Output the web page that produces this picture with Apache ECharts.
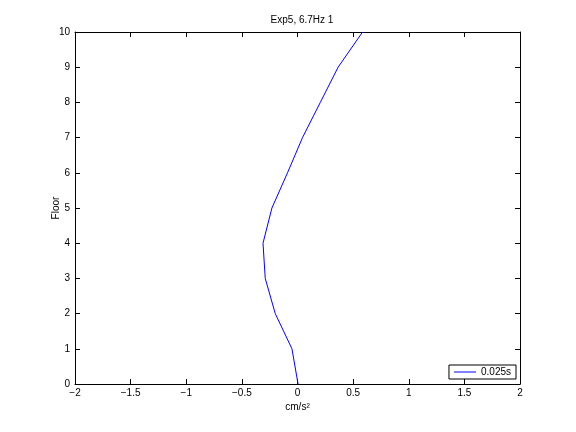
<!DOCTYPE html>
<html>
<head>
<meta charset="utf-8">
<script src="https://cdn.jsdelivr.net/npm/echarts@6/dist/echarts.min.js"></script>
<style>
  html, body { margin: 0; padding: 0; background: #fff; }
  #chart { width: 576px; height: 432px; }
</style>
</head>
<body>
<div id="chart"></div>
<script>
// floor number vs acceleration (cm/s^2)
const floors = [0, 1, 2, 3, 4, 5, 6, 7, 8, 9, 10];
const accel = [0.005, -0.05, -0.2, -0.29, -0.31, -0.23, -0.09, 0.045, 0.205, 0.365, 0.585];
const seriesName = "0.025s";
const titleText = "Exp5, 6.7Hz 1";

const FONT = "Liberation Sans";

const fmtNum = (v) => String(v).replace("-", "\u2212");

const tickCommon = {
  axisLine: { show: true, onZero: false, lineStyle: { color: "#000", width: 1 } },
  axisTick: { show: true, inside: true, length: 5, lineStyle: { color: "#000" } },
  splitLine: { show: false },
};

const chart = echarts.init(document.getElementById("chart"), null, { renderer: "canvas" });
chart.setOption({
  animation: false,
  backgroundColor: "#fff",
  title: {
    text: titleText,
    left: 297,
    top: 10,
    textAlign: "center",
    textStyle: { fontFamily: FONT, fontSize: 10, fontWeight: "normal", color: "#000" },
  },
  grid: { left: 75, right: 56, top: 32, bottom: 48 },
  legend: {
    show: true,
    right: 60,
    bottom: 53,
    orient: "vertical",
    data: [seriesName],
    icon: "rect",
    itemWidth: 22,
    itemHeight: 1,
    itemGap: 0,
    padding: [2, 5, 2, 5],
    borderColor: "#000",
    borderWidth: 1,
    backgroundColor: "#fff",
    textStyle: { fontFamily: FONT, fontSize: 10, color: "#000" },
  },
  xAxis: [
    {
      type: "value",
      min: -2,
      max: 2,
      interval: 0.5,
      position: "bottom",
      name: "cm/s\u00B2",
      nameLocation: "middle",
      nameGap: 18,
      nameMoveOverlap: false,
      nameTextStyle: { fontFamily: FONT, fontSize: 10, color: "#000" },
      axisLabel: { formatter: fmtNum, fontFamily: FONT, fontSize: 10, color: "#000", margin: 4 },
      ...tickCommon,
    },
    {
      type: "value",
      min: -2,
      max: 2,
      interval: 0.5,
      position: "top",
      axisLabel: { show: false },
      ...tickCommon,
    },
  ],
  yAxis: [
    {
      type: "value",
      min: 0,
      max: 10,
      interval: 1,
      position: "left",
      name: "Floor",
      nameLocation: "middle",
      nameGap: 14,
      nameMoveOverlap: false,
      nameTextStyle: { fontFamily: FONT, fontSize: 10, color: "#000" },
      axisLabel: { fontFamily: FONT, fontSize: 10, color: "#000", margin: 5 },
      ...tickCommon,
    },
    {
      type: "value",
      min: 0,
      max: 10,
      interval: 1,
      position: "right",
      axisLabel: { show: false },
      ...tickCommon,
    },
  ],
  series: [
    {
      name: seriesName,
      type: "line",
      data: floors.map((f, i) => [accel[i], f]),
      showSymbol: false,
      symbol: "none",
      color: "#0000ff",
      lineStyle: { color: "#0000ff", width: 1 },
    },
  ],
});
</script>
</body>
</html>
